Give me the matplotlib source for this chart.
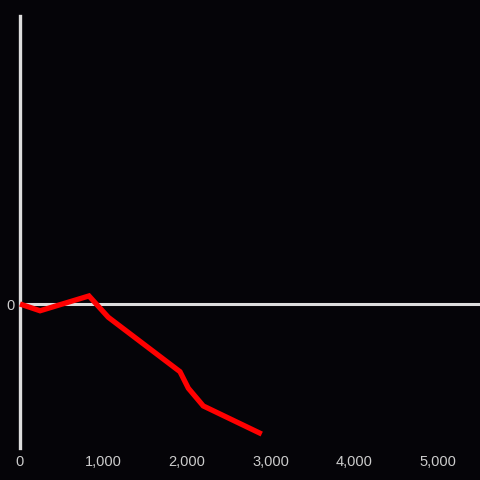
import matplotlib
matplotlib.use("Agg")
import matplotlib.pyplot as plt

# data (arbitrary y units)
x_vals = [0, 240, 826, 1057, 1916, 2016, 2195, 2895]
y_vals = [0, -47, 56, -92, -470, -585, -708, -903]
x_ticks = [0, 1000, 2000, 3000, 4000, 5000]
x_tick_labels = ["0", "1,000", "2,000", "3,000", "4,000", "5,000"]
y_ticks = [0]
y_tick_labels = ["0"]

bg = "#050408"
axis_col = "#dddddd"
text_col = "#cccccc"

fig = plt.figure(figsize=(4.8, 4.8), dpi=100, facecolor=bg)
W, H = 480, 480
ax = fig.add_axes([20 / W, (H - 448) / H, (W - 20) / W, (448 - 16) / H])
ax.set_facecolor(bg)

ax.set_xlim(0, 460 / 83.5 * 1000)
ax.set_ylim(-144 / 144 * 1000, 288 / 144 * 1000)

ax.plot(x_vals, y_vals, color="#ff0000", lw=3.8, solid_joinstyle="miter",
        solid_capstyle="butt", zorder=3, clip_on=False)
ax.axhline(0, color=axis_col, lw=2.2, zorder=2)

for s in ["top", "right", "bottom"]:
    ax.spines[s].set_visible(False)
ax.spines["left"].set_color(axis_col)
ax.spines["left"].set_linewidth(2.4)

ax.set_xticks(x_ticks)
ax.set_xticklabels(x_tick_labels)
ax.set_yticks(y_ticks)
ax.set_yticklabels(y_tick_labels)
ax.tick_params(axis="both", length=0, colors=text_col, labelsize=10.5)
ax.tick_params(axis="x", pad=5)
ax.tick_params(axis="y", pad=4)
for lbl in ax.get_xticklabels() + ax.get_yticklabels():
    lbl.set_fontfamily(["Liberation Sans", "DejaVu Sans"])

fig.savefig("out.png", dpi=100, facecolor=bg)
